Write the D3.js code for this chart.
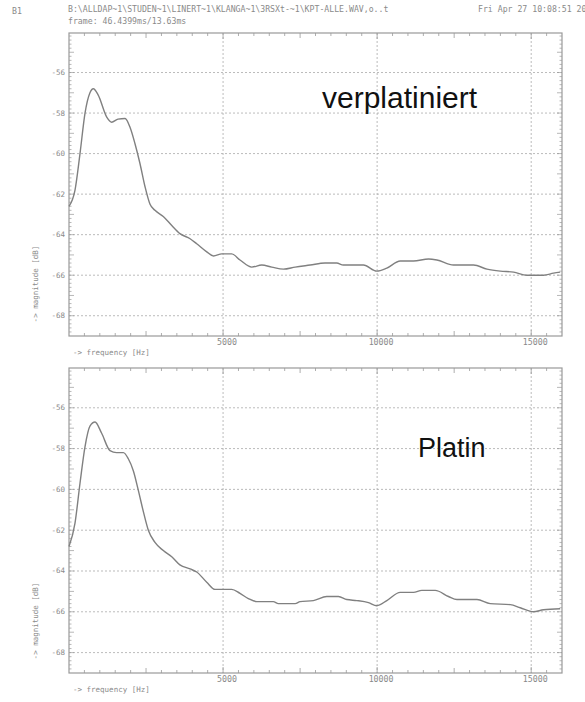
<!DOCTYPE html>
<html>
  <head>
    <meta charset="UTF-8" />
    <style>
      body { margin: 0; background: #fff; }
      .small { font-family: "DejaVu Sans Mono", monospace; font-size: 7.5px; fill: #8a8a8a; }
      .head { font-family: "DejaVu Sans Mono", monospace; font-size: 8.2px; fill: #8a8a8a; }
      .big { font-family: "Liberation Sans", Arial, sans-serif; fill: #111; }
    </style>
  </head>
  <body>
    <svg></svg>
    <script src="https://d3js.org/d3.v7.min.js"></script>
    <script>
      let width = 585,
        height = 702;

      // frequency [Hz] / magnitude [dB]
      const freqTop = [0, 195, 357, 520, 680, 790, 945, 1225, 1385, 1590, 1820, 1980, 2140, 2305, 2470, 2630, 2790, 3060, 3335, 3600, 3930, 4145, 4470, 4690, 4960, 5280, 5550, 5930, 6255, 6580, 6960, 7340, 7825, 8310, 8690, 8905, 9555, 9990, 10315, 10750, 11180, 11670, 11940, 12480, 13130, 13565, 14000, 14430, 14860, 15400, 15725, 15940];
      const magTop = [-62.6, -61.8, -60.0, -58.0, -57.0, -56.8, -57.1, -58.2, -58.45, -58.3, -58.27, -58.7, -59.5, -60.5, -61.65, -62.5, -62.8, -63.1, -63.55, -63.95, -64.2, -64.45, -64.85, -65.05, -64.95, -64.95, -65.25, -65.6, -65.5, -65.6, -65.7, -65.6, -65.5, -65.4, -65.4, -65.5, -65.5, -65.8, -65.65, -65.3, -65.3, -65.2, -65.25, -65.5, -65.5, -65.7, -65.8, -65.85, -66.0, -66.0, -65.9, -65.85];

      const freqBottom = [0, 195, 357, 520, 680, 845, 1060, 1330, 1545, 1765, 1925, 2090, 2250, 2415, 2575, 2790, 3060, 3335, 3600, 3930, 4145, 4470, 4740, 5010, 5280, 5550, 5820, 6095, 6630, 6795, 7340, 7500, 7930, 8365, 8745, 9015, 9340, 9720, 9990, 10315, 10750, 11180, 11450, 11885, 12315, 12590, 13240, 13670, 14320, 14645, 15075, 15400, 15940];
      const magBottom = [-62.8, -61.65, -59.7, -57.9, -56.9, -56.7, -57.25, -58.1, -58.2, -58.2, -58.5, -59.1, -60.05, -61.1, -62.0, -62.6, -63.0, -63.3, -63.7, -63.9, -64.05, -64.55, -64.9, -64.9, -64.9, -65.1, -65.35, -65.5, -65.5, -65.6, -65.6, -65.5, -65.45, -65.25, -65.25, -65.4, -65.45, -65.55, -65.7, -65.45, -65.05, -65.05, -64.95, -64.95, -65.25, -65.4, -65.4, -65.6, -65.65, -65.8, -66.0, -65.9, -65.85];

      const yTicks = [-56, -58, -60, -62, -64, -66, -68];
      const xTicks = [5000, 10000, 15000];
      const panelLabels = ["verplatiniert", "Platin"];

      let svg = d3.select("svg").attr("width", width).attr("height", height);

      // header
      svg.append("text").attr("class", "head").attr("x", 12).attr("y", 14).text("B1");
      svg.append("text").attr("class", "head").attr("x", 68).attr("y", 12)
        .text("B:\\ALLDAP~1\\STUDEN~1\\LINERT~1\\KLANGA~1\\3RSXt-~1\\KPT-ALLE.WAV,o..t");
      svg.append("text").attr("class", "head").attr("x", 478).attr("y", 12)
        .text("Fri Apr 27 10:08:51 20");
      svg.append("text").attr("class", "head").attr("x", 68).attr("y", 24)
        .text("frame: 46.4399ms/13.63ms");

      const panels = [
        { top: 33, bottom: 336, freq: freqTop, mag: magTop, label: panelLabels[0], lx: 322, ly: 108, fs: 30 },
        { top: 368, bottom: 673, freq: freqBottom, mag: magBottom, label: panelLabels[1], lx: 418, ly: 457, fs: 27 }
      ];

      panels.forEach((p) => {
        let x = d3.scaleLinear().domain([0, 16000]).range([69, 562]);
        let y = d3.scaleLinear().domain([-69, -54.05]).range([p.bottom, p.top]);
        let g = svg.append("g");

        // grid
        g.selectAll(".hgrid").data(yTicks).join("line")
          .attr("x1", x(0)).attr("x2", x(16000))
          .attr("y1", (d) => y(d)).attr("y2", (d) => y(d))
          .attr("stroke", "#aaa").attr("stroke-width", 0.8).attr("stroke-dasharray", "2,2");
        g.selectAll(".vgrid").data(xTicks).join("line")
          .attr("x1", (d) => x(d)).attr("x2", (d) => x(d))
          .attr("y1", p.top).attr("y2", p.bottom)
          .attr("stroke", "#aaa").attr("stroke-width", 0.8).attr("stroke-dasharray", "2,2");

        // minor ticks on all four sides
        let xMinor = d3.range(500, 16000, 500);
        let yMinor = d3.range(-68.8, -54.1, 0.2).map((v) => Math.round(v * 10) / 10);
        let tickLenX = (d) => (d % 5000 === 0 ? 6 : d % 2500 === 0 ? 5 : 3);
        let tickLenY = (d) => (Math.abs(d - Math.round(d)) < 0.01 ? 5 : 2.5);

        g.selectAll(".tb").data(xMinor).join("line")
          .attr("x1", (d) => x(d)).attr("x2", (d) => x(d))
          .attr("y1", p.bottom).attr("y2", (d) => p.bottom - tickLenX(d))
          .attr("stroke", "#999").attr("stroke-width", 0.8);
        g.selectAll(".tt").data(xMinor).join("line")
          .attr("x1", (d) => x(d)).attr("x2", (d) => x(d))
          .attr("y1", p.top).attr("y2", (d) => p.top + tickLenX(d))
          .attr("stroke", "#999").attr("stroke-width", 0.8);
        g.selectAll(".tl").data(yMinor).join("line")
          .attr("x1", x(0)).attr("x2", (d) => x(0) + tickLenY(d))
          .attr("y1", (d) => y(d)).attr("y2", (d) => y(d))
          .attr("stroke", "#999").attr("stroke-width", 0.7);
        g.selectAll(".tr").data(yMinor).join("line")
          .attr("x1", x(16000)).attr("x2", (d) => x(16000) - tickLenY(d))
          .attr("y1", (d) => y(d)).attr("y2", (d) => y(d))
          .attr("stroke", "#999").attr("stroke-width", 0.7);

        // frame
        g.append("rect")
          .attr("x", x(0)).attr("y", p.top)
          .attr("width", x(16000) - x(0)).attr("height", p.bottom - p.top)
          .attr("fill", "none").attr("stroke", "#999").attr("stroke-width", 1.2);

        // tick labels
        g.selectAll(".yl").data(yTicks).join("text")
          .attr("class", "small")
          .attr("x", 65).attr("y", (d) => y(d) + 2.5)
          .attr("text-anchor", "end")
          .text((d) => d);
        g.selectAll(".xl").data(xTicks).join("text")
          .attr("class", "small")
          .style("font-size", "8.3px")
          .attr("x", (d) => x(d) + 4).attr("y", p.bottom + 9)
          .attr("text-anchor", "middle")
          .text((d) => d);

        g.append("text").attr("class", "small")
          .attr("x", 73).attr("y", p.bottom + 19)
          .text("-> frequency [Hz]");
        g.append("text").attr("class", "small")
          .attr("transform", "translate(38," + (p.bottom - 52) + ") rotate(-90)")
          .attr("text-anchor", "middle")
          .text("-> magnitude [dB]");

        // curve
        let line = d3.line()
          .x((d, i) => x(p.freq[i]))
          .y((d) => y(d))
          .curve(d3.curveMonotoneX);
        g.append("path")
          .datum(p.mag)
          .attr("d", line)
          .attr("fill", "none")
          .attr("stroke", "#808080")
          .attr("stroke-width", 1.4);

        g.append("text").attr("class", "big")
          .attr("x", p.lx).attr("y", p.ly)
          .style("font-size", p.fs + "px")
          .text(p.label);
      });
    </script>
  </body>
</html>
